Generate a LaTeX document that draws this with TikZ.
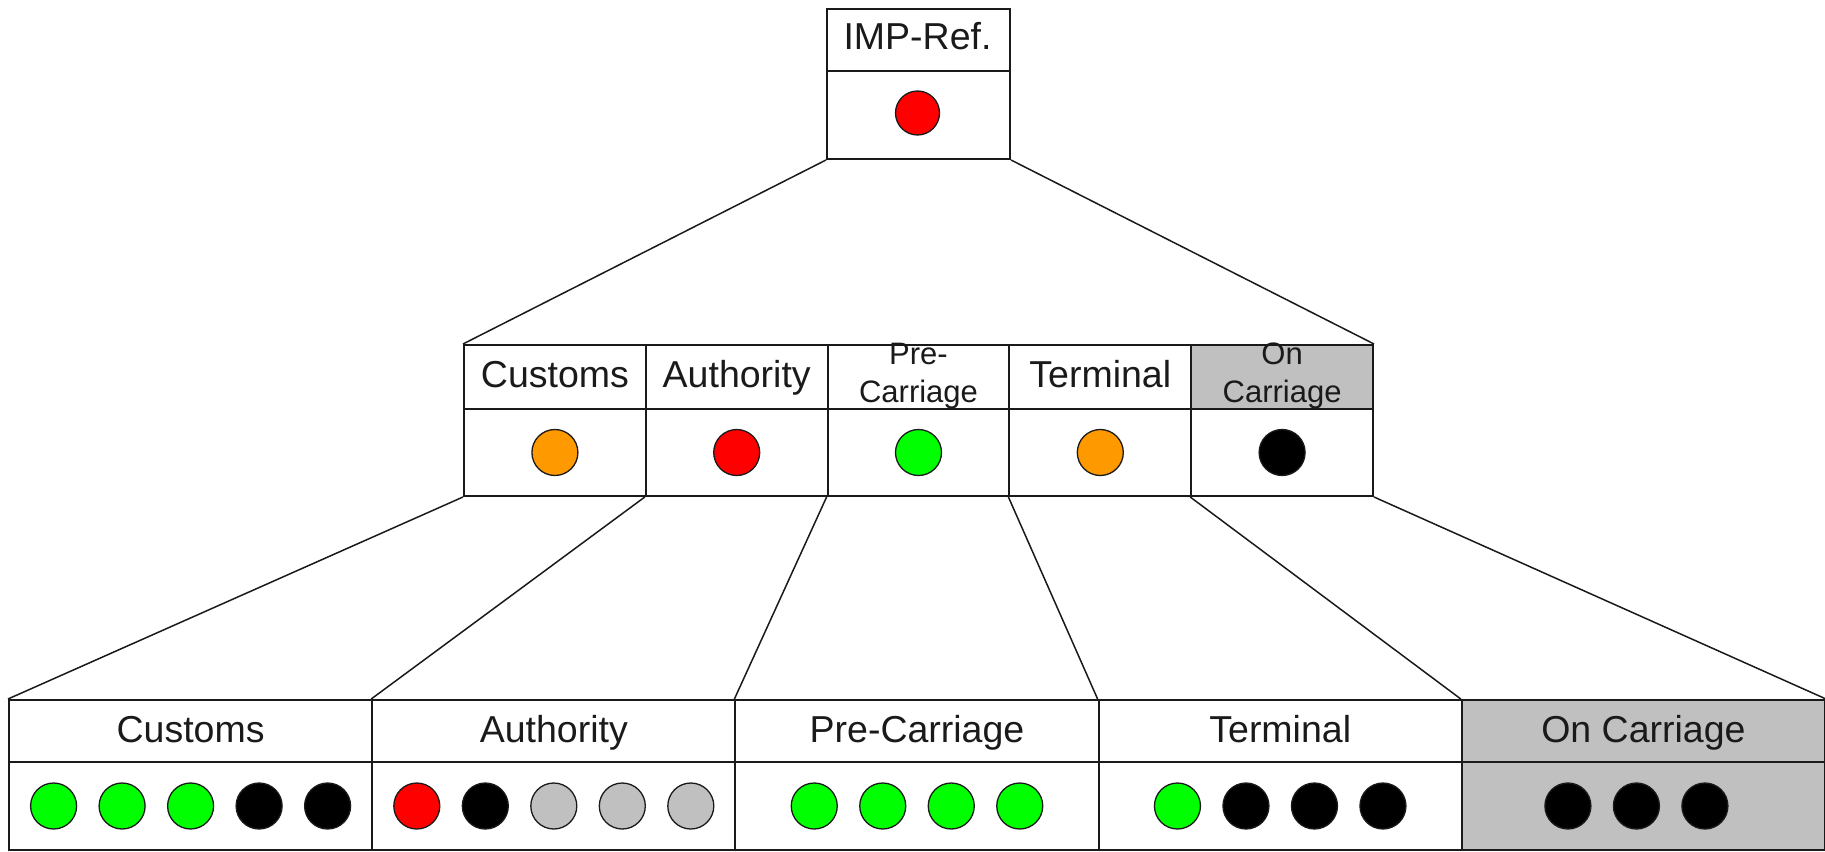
\documentclass[tikz,border=0pt]{standalone}
\usepackage{fontspec}
\setmainfont{Liberation Sans}
\usetikzlibrary{calc}
\definecolor{lampred}{HTML}{FF0000}
\definecolor{lamporange}{HTML}{FF9900}
\definecolor{lampgreen}{HTML}{00FF00}
\definecolor{lampgray}{HTML}{C0C0C0}
\definecolor{cellgray}{HTML}{C0C0C0}
\definecolor{ink}{HTML}{1A1A1A}
\begin{document}
\begin{tikzpicture}[x=1pt,y=-1pt,
  cellbox/.style={draw=ink, line width=2pt, inner sep=0pt, anchor=north west},
  shaded/.style={fill=cellgray},
  lbl/.style={anchor=base, inner sep=0pt, text=ink, font=\fontsize{37.5}{45}\selectfont},
  lbltwo/.style={anchor=center, inner sep=0pt, align=center, text=ink, font=\fontsize{31}{38}\selectfont},
  conn/.style={draw=ink, line width=1.5pt},
  lamp/.style={draw=ink, line width=1.3pt, fill=#1}
]
\useasboundingbox (0,0) rectangle (1825,851);

% top box
\node[cellbox, minimum width=183pt, minimum height=62pt] (th) at (826,8) {};
\node[cellbox, minimum width=183pt, minimum height=88pt] (tb) at (826,70) {};
\node[lbl] (tl) at (917.5,50) {IMP-Ref.};
\draw[lamp=lampred] (917.5,113) circle (22);

% middle row
\foreach \i in {1,...,5}{
  \pgfmathsetmacro{\mx}{463+(\i-1)*181.8}
  \ifnum\i=5
    \node[cellbox, shaded, minimum width=181.8pt, minimum height=64pt] (mh\i) at (\mx,344) {};
  \else
    \node[cellbox, minimum width=181.8pt, minimum height=64pt] (mh\i) at (\mx,344) {};
  \fi
  \node[cellbox, minimum width=181.8pt, minimum height=87pt] (mb\i) at (\mx,408) {};
}
\node[lbl] (ml1) at ($(mh1.south)+(0,-23)$) {Customs};
\node[lbl] (ml2) at ($(mh2.south)+(0,-23)$) {Authority};
\node[lbltwo] (ml3) at ($(mh3.center)+(0,-1)$) {Pre-\\Carriage};
\node[lbl] (ml4) at ($(mh4.south)+(0,-23)$) {Terminal};
\node[lbltwo] (ml5) at ($(mh5.center)+(0,-1)$) {On\\Carriage};
\draw[lamp=lamporange] (mb1.center) circle (23);
\draw[lamp=lampred] (mb2.center) circle (23);
\draw[lamp=lampgreen] (mb3.center) circle (23);
\draw[lamp=lamporange] (mb4.center) circle (23);
\draw[lamp=black] (mb5.center) circle (23);

% bottom row
\foreach \i in {1,...,5}{
  \pgfmathsetmacro{\bx}{8+(\i-1)*363.2}
  \ifnum\i=5
    \node[cellbox, shaded, minimum width=363.2pt, minimum height=62pt] (bh\i) at (\bx,699) {};
    \node[cellbox, shaded, minimum width=363.2pt, minimum height=88pt] (bb\i) at (\bx,761) {};
  \else
    \node[cellbox, minimum width=363.2pt, minimum height=62pt] (bh\i) at (\bx,699) {};
    \node[cellbox, minimum width=363.2pt, minimum height=88pt] (bb\i) at (\bx,761) {};
  \fi
}
\node[lbl] (bl1) at ($(bh1.south)+(0,-21)$) {Customs};
\node[lbl] (bl2) at ($(bh2.south)+(0,-21)$) {Authority};
\node[lbl] (bl3) at ($(bh3.south)+(0,-21)$) {Pre-Carriage};
\node[lbl] (bl4) at ($(bh4.south)+(0,-21)$) {Terminal};
\node[lbl] (bl5) at ($(bh5.south)+(0,-21)$) {On Carriage};

% lamps of the bottom row
\foreach \k/\c in {0/lampgreen,1/lampgreen,2/lampgreen,3/black,4/black}
  \draw[lamp=\c] ($(bb1.center)+(-137+\k*68.5,0)$) circle (23);
\foreach \k/\c in {0/lampred,1/black,2/lampgray,3/lampgray,4/lampgray}
  \draw[lamp=\c] ($(bb2.center)+(-137+\k*68.5,0)$) circle (23);
\foreach \k/\c in {0/lampgreen,1/lampgreen,2/lampgreen,3/lampgreen}
  \draw[lamp=\c] ($(bb3.center)+(-102.75+\k*68.5,0)$) circle (23);
\foreach \k/\c in {0/lampgreen,1/black,2/black,3/black}
  \draw[lamp=\c] ($(bb4.center)+(-102.75+\k*68.5,0)$) circle (23);
\foreach \k/\c in {0/black,1/black,2/black}
  \draw[lamp=\c] ($(bb5.center)+(-75.5+\k*68.5,0)$) circle (23);

% connectors
\draw[conn] (tb.south west) -- (mh1.north west);
\draw[conn] (tb.south east) -- (mh5.north east);
\foreach \i in {1,...,5}
  \draw[conn] (mb\i.south west) -- (bh\i.north west);
\draw[conn] (mb5.south east) -- (bh5.north east);
\end{tikzpicture}
\end{document}
